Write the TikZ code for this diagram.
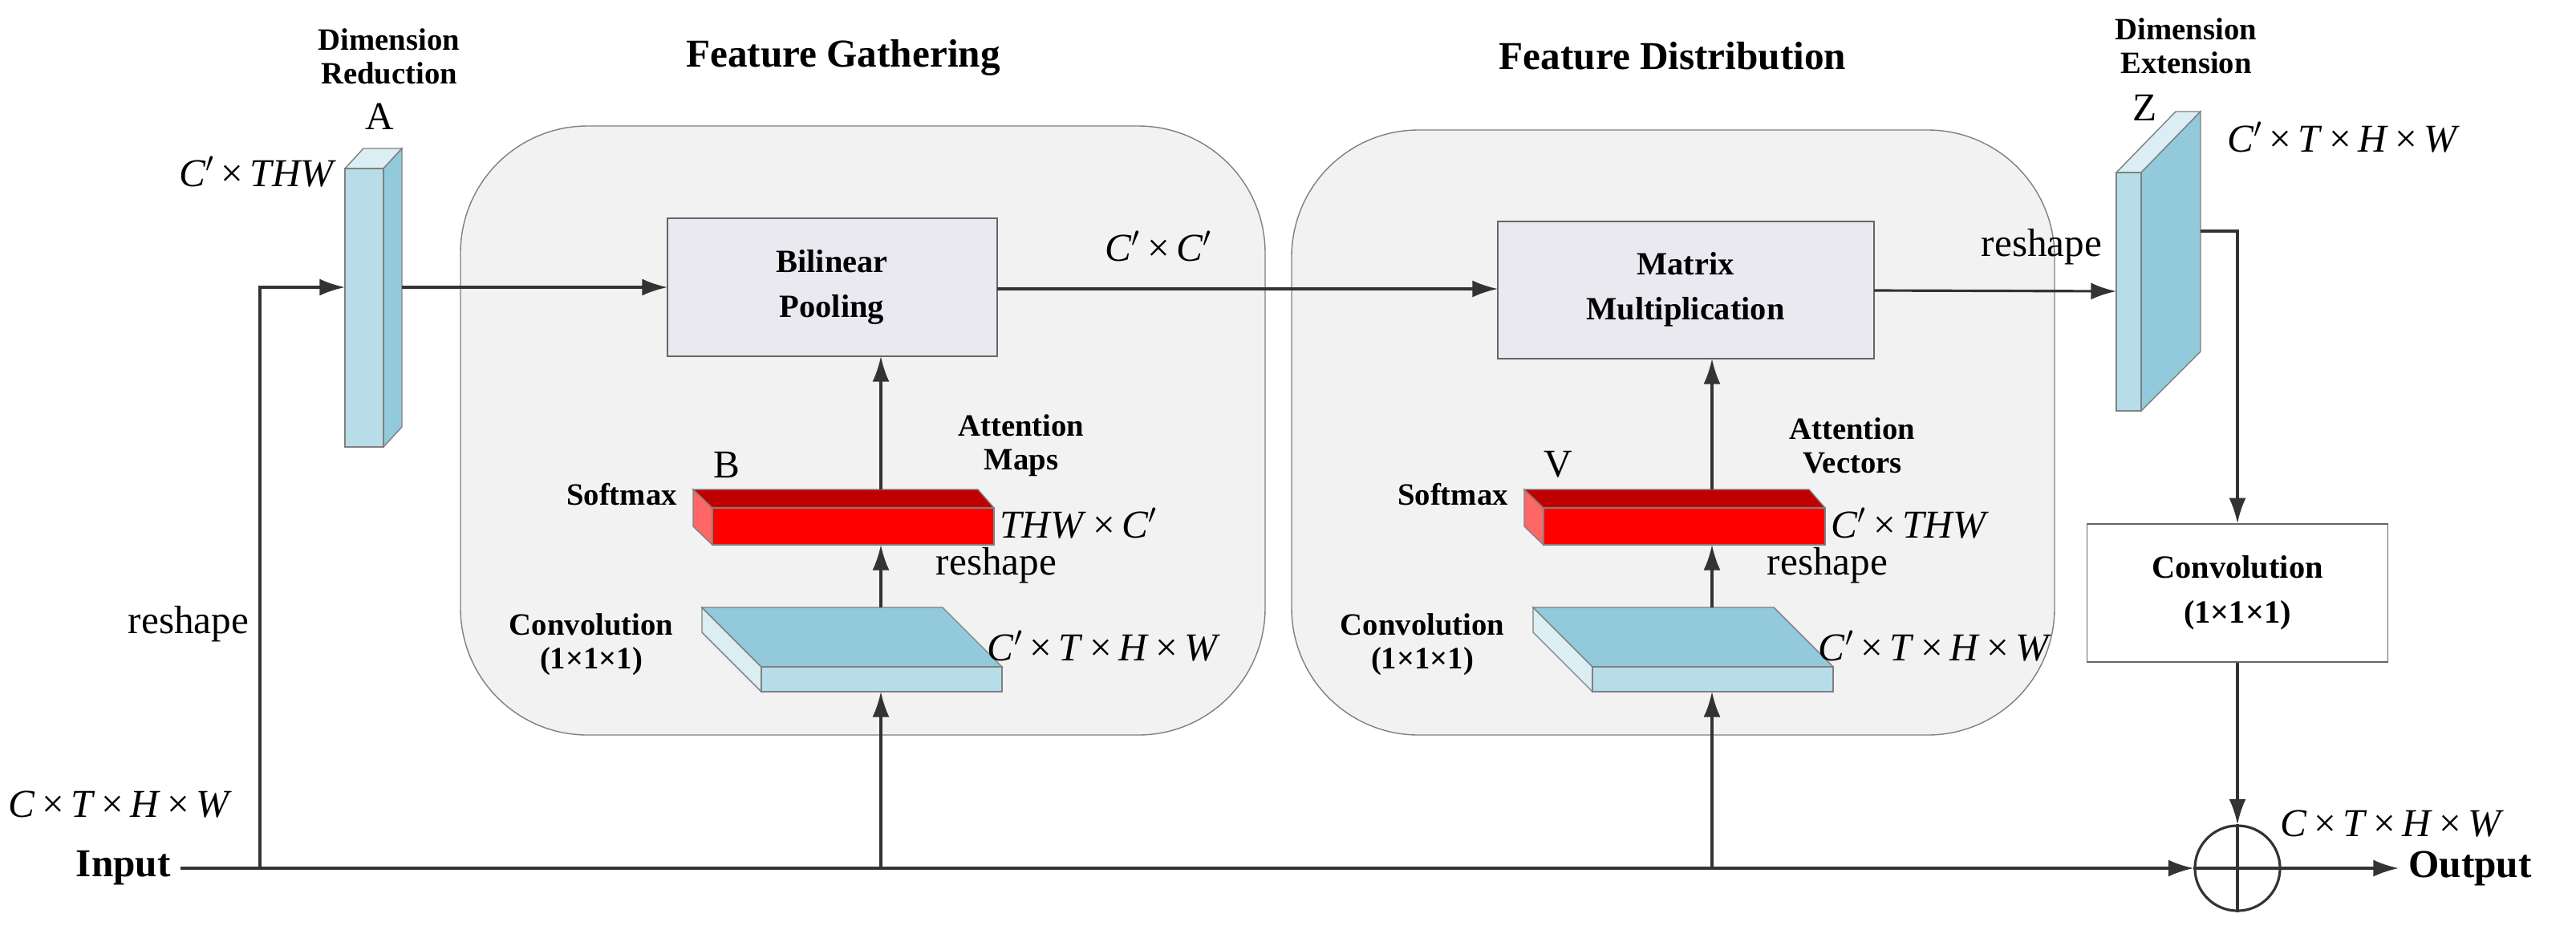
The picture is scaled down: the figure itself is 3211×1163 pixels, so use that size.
\documentclass[tikz,border=0pt]{standalone}
\usepackage{fontspec}
\setmainfont{Liberation Serif}
\usetikzlibrary{arrows.meta,positioning,calc}
\definecolor{panelgray}{HTML}{F2F2F2}
\definecolor{boxfill}{HTML}{EBE9F0}
\definecolor{bluetop}{HTML}{92C9DB}
\definecolor{bluefront}{HTML}{B7DDE8}
\definecolor{blueside}{HTML}{DAEEF3}
\definecolor{redtop}{HTML}{C00000}
\definecolor{redside}{HTML}{FF6666}
\newcommand{\tms}{\,×\,}
\newcommand{\cp}{\textit{C}$'$}
\tikzset{
  lbl/.style={font=\bfseries\fontsize{11}{12}\selectfont, align=center},
  title/.style={font=\bfseries\fontsize{14}{16}\selectfont},
  dim/.style={font=\fontsize{14}{16}\selectfont},
  op/.style={font=\bfseries\fontsize{11.5}{16}\selectfont, align=center},
  arr/.style={-{Latex[length=9pt,width=6pt]}, draw=black!80, line width=0.9pt},
  ln/.style={draw=black!80, line width=0.9pt},
}
\begin{document}
\begin{tikzpicture}[x=0.01cm, y=-0.01cm]
    \useasboundingbox (0,0) rectangle (3211,1163);

    % panels
    \draw[gray, fill=panelgray, rounded corners=45pt] (574,157) rectangle (1577,916);
    \draw[gray, fill=panelgray, rounded corners=45pt] (1610,162) rectangle (2561,916);
    \node[title] (gtitle) at (1051,72) {Feature Gathering};
    \node[title] (dtitle) at (2085,70) {Feature Distribution};

    % bar A
    \draw[gray, fill=blueside] (430,210) -- (453,185) -- (501,185) -- (478,210) -- cycle;
    \draw[gray, fill=bluetop] (478,210) -- (501,185) -- (501,532) -- (478,557) -- cycle;
    \draw[gray, fill=bluefront] (430,210) rectangle (478,557);
    \coordinate (ain) at (430,358);
    \coordinate (aout) at (501,358);
    \node[lbl] (dimred) at (485,70) {Dimension\\Reduction};
    \node[dim] (alab) at (473,145) {A};
    \node[dim, left] (alabdim) at (432,214) {\cp\tms\textit{THW}};

    % bar Z
    \draw[gray, fill=blueside] (2638,215) -- (2712,139) -- (2743,139) -- (2669,215) -- cycle;
    \draw[gray, fill=bluetop] (2669,215) -- (2743,139) -- (2743,438) -- (2669,512) -- cycle;
    \draw[gray, fill=bluefront] (2638,215) rectangle (2669,512);
    \coordinate (zin) at (2638,363);
    \coordinate (zout) at (2743,288);
    \node[lbl] (dimext) at (2725,57) {Dimension\\Extension};
    \node[dim] (zlab) at (2674,134) {Z};
    \node[dim] (zlabdim) at (2921,171) {\cp\tms\textit{T}\tms\textit{H}\tms\textit{W}};

    % operation boxes
    \draw[gray!80!black, fill=boxfill] (832,272) rectangle (1243,444);
    \node[op] (bilinear) at (1037,358) {Bilinear\\Pooling};
    \draw[gray!80!black, fill=boxfill] (1867,276) rectangle (2336,447);
    \node[op] (matmul) at (2101,361) {Matrix\\Multiplication};
    \coordinate (bilin) at (832,358);
    \coordinate (bilout) at (1243,360);
    \coordinate (matin) at (1867,360);
    \coordinate (matout) at (2336,362);
    \node[dim] (cc) at (1444,307) {\cp\tms\cp};
    \node[dim] (zreshape) at (2545,308) {reshape};

    % gathering and distribution branches
    \foreach \s/\n/\lab/\att/\bdim in {-1036/g/B/Attention\\Maps/\textit{THW}\tms\cp, 0/d/V/Attention\\Vectors/\cp\tms\textit{THW}} {
      \begin{scope}[xshift=\s*0.01cm]
        \draw[gray, fill=blueside] (1911,757) -- (1985,831) -- (1985,862) -- (1911,788) -- cycle;
        \draw[gray, fill=bluetop] (1911,757) -- (2211,757) -- (2285,831) -- (1985,831) -- cycle;
        \draw[gray, fill=bluefront] (1985,831) rectangle (2285,862);
        \draw[gray, fill=redside] (1900,610) -- (1924,633) -- (1924,679) -- (1900,656) -- cycle;
        \draw[gray, fill=redtop] (1900,610) -- (2255,610) -- (2275,633) -- (1924,633) -- cycle;
        \draw[gray, fill=red] (1924,633) rectangle (2275,679);
        \coordinate (\n convin) at (2134,862);
        \coordinate (\n convout) at (2134,757);
        \coordinate (\n redin) at (2134,679);
        \coordinate (\n redout) at (2134,610);
        \coordinate (\n up) at (2134,447);
        \node[lbl] (\n convlab) at (1773,803) {Convolution\\(1×1×1)};
        \node[dim] (\n convdim) at (2412,805) {\cp\tms\textit{T}\tms\textit{H}\tms\textit{W}};
        \node[lbl] (\n softmax) at (1811,616) {Softmax};
        \node[dim] (\n lab) at (1942,579) {\lab};
        \node[lbl] (\n att) at (2309,555) {\att};
        \node[dim, right] (\n bdim) at (2270,652) {\bdim};
        \node[dim] (\n reshape) at (2278,705) {reshape};
      \end{scope}
    }

    % final convolution and sum
    \node[rectangle, draw=gray!80!black, fill=white, minimum width=3.75cm, minimum height=1.72cm,
          font=\bfseries\fontsize{11.5}{16}\selectfont, align=center] (fconv) at (2789,739) {Convolution\\(1×1×1)};
    \node[circle, draw=black!80, line width=0.9pt, minimum size=1.06cm, inner sep=0pt] (sum) at (2789,1082) {};
    \draw[ln] (sum.north) -- (sum.south) (sum.west) -- (sum.east);
    \node[dim] (sumdim) at (2982,1027) {\textit{C}\tms\textit{T}\tms\textit{H}\tms\textit{W}};
    \node[font=\bfseries\fontsize{14}{16}\selectfont, anchor=west] (output) at (2990,1082) {Output};
    \node[font=\bfseries\fontsize{14}{16}\selectfont, anchor=east] (input) at (225,1082) {Input};
    \node[dim] (indim) at (150,1003) {\textit{C}\tms\textit{T}\tms\textit{H}\tms\textit{W}};
    \node[dim] (lreshape) at (235,778) {reshape};

    % connectors
    \coordinate (split) at (324,1082);
    \coordinate (gsplit) at (1098,1082);
    \coordinate (dsplit) at (2134,1082);
    \draw[arr] (input.east) -- (sum.west);
    \draw[arr] (split) |- (ain);
    \draw[arr] (aout) -- (bilin);
    \draw[arr] (bilout) -- (matin);
    \draw[arr] (matout) -- (zin);
    \draw[arr] (zout) -| (fconv.north);
    \draw[arr] (fconv.south) -- (sum.north);
    \draw[arr] (sum.east) -- (output.west);
    \draw[arr] (gsplit) -- (gconvin);
    \draw[arr] (dsplit) -- (dconvin);
    \draw[arr] (gconvout) -- (gredin);
    \draw[arr] (dconvout) -- (dredin);
    \draw[arr] (gredout) -- (1098,444);
    \draw[arr] (dredout) -- (dup);
\end{tikzpicture}
\end{document}
